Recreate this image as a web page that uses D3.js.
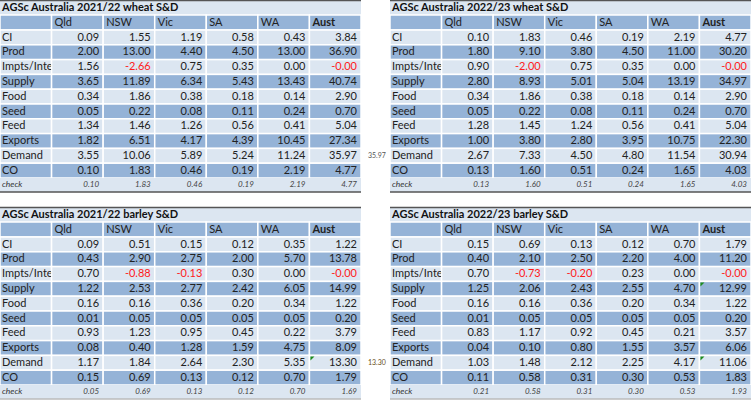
<!DOCTYPE html>
<html>
<head>
<meta charset="utf-8">
<script src="https://cdn.jsdelivr.net/npm/d3@7"></script>
<style>
  body { margin: 0; background: #fff; }
  svg { display: block; font-family: Lato, "Noto Sans", sans-serif; }
</style>
</head>
<body>
<div id="root"></div>
<script>
// Columns and row labels shared by all four tables
const states = ['Qld', 'NSW', 'Vic', 'SA', 'WA', 'Aust'];
const items = ['CI', 'Prod', 'Impts/Inter', 'Supply', 'Food', 'Seed', 'Feed', 'Exports', 'Demand', 'CO'];

// 2021/22 wheat
const wheat2122 = [
  [0.09, 1.55, 1.19, 0.58, 0.43, 3.84],
  [2.00, 13.00, 4.40, 4.50, 13.00, 36.90],
  [1.56, -2.66, 0.75, 0.35, 0.00, -0],
  [3.65, 11.89, 6.34, 5.43, 13.43, 40.74],
  [0.34, 1.86, 0.38, 0.18, 0.14, 2.90],
  [0.05, 0.22, 0.08, 0.11, 0.24, 0.70],
  [1.34, 1.46, 1.26, 0.56, 0.41, 5.04],
  [1.82, 6.51, 4.17, 4.39, 10.45, 27.34],
  [3.55, 10.06, 5.89, 5.24, 11.24, 35.97],
  [0.10, 1.83, 0.46, 0.19, 2.19, 4.77]
];
const wheat2122Check = [0.10, 1.83, 0.46, 0.19, 2.19, 4.77];

// 2022/23 wheat
const wheat2223 = [
  [0.10, 1.83, 0.46, 0.19, 2.19, 4.77],
  [1.80, 9.10, 3.80, 4.50, 11.00, 30.20],
  [0.90, -2.00, 0.75, 0.35, 0.00, -0],
  [2.80, 8.93, 5.01, 5.04, 13.19, 34.97],
  [0.34, 1.86, 0.38, 0.18, 0.14, 2.90],
  [0.05, 0.22, 0.08, 0.11, 0.24, 0.70],
  [1.28, 1.45, 1.24, 0.56, 0.41, 5.04],
  [1.00, 3.80, 2.80, 3.95, 10.75, 22.30],
  [2.67, 7.33, 4.50, 4.80, 11.54, 30.94],
  [0.13, 1.60, 0.51, 0.24, 1.65, 4.03]
];
const wheat2223Check = [0.13, 1.60, 0.51, 0.24, 1.65, 4.03];

// 2021/22 barley
const barley2122 = [
  [0.09, 0.51, 0.15, 0.12, 0.35, 1.22],
  [0.43, 2.90, 2.75, 2.00, 5.70, 13.78],
  [0.70, -0.88, -0.13, 0.30, 0.00, -0],
  [1.22, 2.53, 2.77, 2.42, 6.05, 14.99],
  [0.16, 0.16, 0.36, 0.20, 0.34, 1.22],
  [0.01, 0.05, 0.05, 0.05, 0.05, 0.20],
  [0.93, 1.23, 0.95, 0.45, 0.22, 3.79],
  [0.08, 0.40, 1.28, 1.59, 4.75, 8.09],
  [1.17, 1.84, 2.64, 2.30, 5.35, 13.30],
  [0.15, 0.69, 0.13, 0.12, 0.70, 1.79]
];
const barley2122Check = [0.05, 0.69, 0.13, 0.12, 0.70, 1.69];

// 2022/23 barley
const barley2223 = [
  [0.15, 0.69, 0.13, 0.12, 0.70, 1.79],
  [0.40, 2.10, 2.50, 2.20, 4.00, 11.20],
  [0.70, -0.73, -0.20, 0.23, 0.00, -0],
  [1.25, 2.06, 2.43, 2.55, 4.70, 12.99],
  [0.16, 0.16, 0.36, 0.20, 0.34, 1.22],
  [0.01, 0.05, 0.05, 0.05, 0.05, 0.20],
  [0.83, 1.17, 0.92, 0.45, 0.21, 3.57],
  [0.04, 0.10, 0.80, 1.55, 3.57, 6.06],
  [1.03, 1.48, 2.12, 2.25, 4.17, 11.06],
  [0.11, 0.58, 0.31, 0.30, 0.53, 1.83]
];
const barley2223Check = [0.21, 0.58, 0.31, 0.30, 0.53, 1.93];

// Stray cell values sitting to the right of the left tables
const sideNotes = [
  { text: '35.97', table: 0, item: 'Demand' },
  { text: '13.30', table: 2, item: 'Demand' }
];

const tables = [
  { title: 'AGSc Australia 2021/22 wheat S&D', rows: wheat2122, check: wheat2122Check, x: 0, y: 0, flags: [] },
  { title: 'AGSc Australia 2022/23 wheat S&D', rows: wheat2223, check: wheat2223Check, x: 390, y: 0, flags: [] },
  { title: 'AGSc Australia 2021/22 barley S&D', rows: barley2122, check: barley2122Check, x: 0, y: 207, flags: ['Demand'] },
  { title: 'AGSc Australia 2022/23 barley S&D', rows: barley2223, check: barley2223Check, x: 390, y: 207, flags: ['Supply', 'Demand'] }
];

const width = 755, height = 403;
const light = '#dce6f1', dark = '#95b3d7';
const fontSize = 11;

const svg = d3.select('#root')
  .append('svg')
  .attr('width', width)
  .attr('height', height);

const fmt = v => (v < 0 || Object.is(v, -0) ? '-' : '') + Math.abs(v).toFixed(2);
const isNeg = v => v < 0 || Object.is(v, -0);

const tableW = 361;
const titleH = 15, headH = 15, rowH = 14.8, checkH = 14;

// column scale: label column + six state columns
const x = d3.scaleBand()
  .domain(['label'].concat(states))
  .range([0, tableW]);

// row scale for the data rows
const y = d3.scaleBand()
  .domain(items)
  .range([titleH + headH, titleH + headH + rowH * items.length]);

const checkY = y.range()[1];
const totalH = checkY + checkH;

const defs = svg.append('defs');
defs.append('clipPath').attr('id', 'labelClip')
  .append('rect')
  .attr('x', 0).attr('y', 0)
  .attr('width', x.bandwidth() - 0.5).attr('height', totalH);

tables.forEach((t, ti) => {
  const g = svg.append('g').attr('transform', `translate(${t.x},${t.y})`);

  // title row
  g.append('rect')
    .attr('x', 0).attr('y', 0)
    .attr('width', tableW).attr('height', titleH)
    .attr('fill', light);
  g.append('text')
    .attr('x', 2).attr('y', titleH / 2 + 1)
    .attr('dominant-baseline', 'middle')
    .attr('font-size', fontSize).attr('font-weight', 'bold')
    .attr('fill', '#111')
    .text(t.title);

  // header row
  g.selectAll('.head')
    .data(x.domain())
    .enter()
      .append('rect')
      .attr('x', d => x(d))
      .attr('y', titleH)
      .attr('width', x.bandwidth())
      .attr('height', headH)
      .attr('fill', dark)
      .attr('stroke', '#fff')
      .attr('stroke-width', 1.5);
  g.selectAll('.headText')
    .data(states)
    .enter()
      .append('text')
      .attr('x', d => x(d) + 3)
      .attr('y', titleH + headH / 2 + 0.5)
      .attr('dominant-baseline', 'middle')
      .attr('font-size', fontSize)
      .attr('font-weight', d => d === 'Aust' ? 'bold' : 'normal')
      .attr('fill', '#222')
      .text(d => d);

  // body rows
  const rows = g.selectAll('.row')
    .data(items)
    .enter()
      .append('g')
      .attr('transform', d => `translate(0,${y(d)})`);

  rows.each(function (item, ri) {
    const row = d3.select(this);
    const fill = ri % 2 === 0 ? light : dark;
    row.selectAll('rect')
      .data(x.domain())
      .enter()
        .append('rect')
        .attr('x', d => x(d))
        .attr('width', x.bandwidth())
        .attr('height', y.bandwidth())
        .attr('fill', fill)
        .attr('stroke', '#fff')
        .attr('stroke-width', 1.5);
    row.append('text')
      .attr('clip-path', 'url(#labelClip)')
      .attr('x', 2).attr('y', y.bandwidth() / 2 + 0.5)
      .attr('dominant-baseline', 'middle')
      .attr('font-size', fontSize)
      .attr('fill', '#222')
      .text(item);
    row.selectAll('.val')
      .data(t.rows[ri])
      .enter()
        .append('text')
        .attr('x', (d, i) => x(states[i]) + x.bandwidth() - 4)
        .attr('y', y.bandwidth() / 2 + 0.5)
        .attr('dominant-baseline', 'middle')
        .attr('text-anchor', 'end')
        .attr('font-size', fontSize)
        .attr('fill', d => isNeg(d) ? '#ff1a1a' : '#222')
        .text(fmt);
  });

  // green error markers in the Aust column
  t.flags.forEach(item => {
    const cx = x('Aust') + 1, cy = y(item) + 1;
    g.append('path')
      .attr('d', d3.line()([[cx, cy], [cx + 4, cy], [cx, cy + 4]]) + 'Z')
      .attr('fill', '#1e8c1e');
  });

  // check row
  g.append('rect')
    .attr('x', 0).attr('y', checkY)
    .attr('width', tableW).attr('height', checkH)
    .attr('fill', light);
  g.append('text')
    .attr('x', 2).attr('y', checkY + checkH / 2)
    .attr('dominant-baseline', 'middle')
    .attr('font-size', 8.5).attr('font-style', 'italic')
    .attr('fill', '#333')
    .text('check');
  g.selectAll('.chk')
    .data(t.check)
    .enter()
      .append('text')
      .attr('x', (d, i) => x(states[i]) + x.bandwidth() - 4)
      .attr('y', checkY + checkH / 2)
      .attr('dominant-baseline', 'middle')
      .attr('text-anchor', 'end')
      .attr('font-size', 8).attr('font-style', 'italic')
      .attr('fill', '#444')
      .text(fmt);

  // top and bottom borders
  g.append('line')
    .attr('x1', 0).attr('x2', tableW)
    .attr('y1', 0.5).attr('y2', 0.5)
    .attr('stroke', '#555').attr('stroke-width', 1.5);
  g.append('line')
    .attr('x1', 0).attr('x2', tableW)
    .attr('y1', totalH).attr('y2', totalH)
    .attr('stroke', ti < 2 ? '#555' : '#bbb').attr('stroke-width', 1.5);
});

// stray notes
sideNotes.forEach(n => {
  const t = tables[n.table];
  svg.append('text')
    .attr('x', t.x + tableW + 7)
    .attr('y', t.y + y(n.item) + y.bandwidth() / 2 + 0.5)
    .attr('dominant-baseline', 'middle')
    .attr('font-size', 7)
    .attr('fill', n.table === 2 ? '#6a5020' : '#555')
    .text(n.text);
});
</script>
</body>
</html>
